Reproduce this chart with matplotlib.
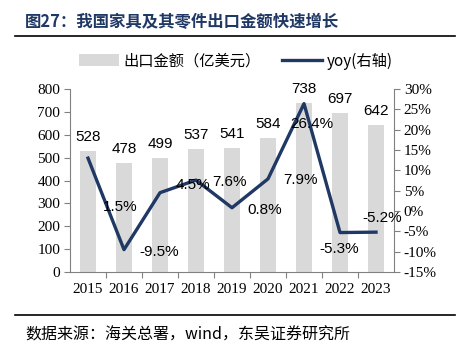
import matplotlib
matplotlib.use("Agg")
import matplotlib.pyplot as plt
import numpy as np

years = ["2015", "2016", "2017", "2018", "2019", "2020", "2021", "2022", "2023"]
export_value = [528, 478, 499, 537, 541, 584, 738, 697, 642]
yoy = [13.0, -9.5, 4.5, 7.6, 0.8, 7.9, 26.4, -5.3, -5.2]
yoy_labels = ["1.5%", "-9.5%", "4.5%", "7.6%", "0.8%", "7.9%", "26.4%", "-5.3%", "-5.2%"]
# label placement (x in category units, y in % on right axis)
yoy_label_pos = [(0.89, 1.1), (1.97, -10.0), (2.92, 6.4), (3.94, 7.2), (4.9, 0.3),
                 (5.91, 7.5), (6.22, 21.5), (6.99, -9.3), (8.17, -1.6)]

cjk = ["Noto Sans CJK SC", "DejaVu Sans"]
serif = ["Liberation Serif", "DejaVu Serif"]
sans = ["Liberation Sans", "DejaVu Sans"]

W, H = 458, 345
fig = plt.figure(figsize=(W / 100, H / 100), dpi=100)
ax = fig.add_axes([70 / W, (H - 272) / H, (394 - 70) / W, (272 - 89) / H])
ax2 = ax.twinx()

navy = "#1F3864"
gray_spine = "#808080"
x = np.arange(len(years))

bars = ax.bar(x, export_value, width=0.47, color="#D9D9D9", zorder=1, label="出口金额（亿美元）")
for xi, v in zip(x, export_value):
    ax.annotate(str(v), (xi, v), xytext=(0, 5), textcoords="offset points",
                ha="center", va="bottom", fontsize=11, family=sans, color="black")

ax.set_xlim(-0.5, len(years) - 0.5)
ax.set_ylim(0, 800)
ax.set_yticks(range(0, 801, 100))
ax.set_yticklabels([str(v) for v in range(0, 801, 100)], family=serif, fontsize=11)

ax.set_xticks(np.arange(0.5, len(years) - 0.5, 1))
ax.set_xticklabels([])
ax.set_xticks(x, minor=True)
ax.set_xticklabels(years, minor=True, family=serif, fontsize=11)
ax.tick_params(axis="x", which="major", length=4, color=gray_spine, direction="out")
ax.tick_params(axis="x", which="minor", length=0, pad=8)
ax.tick_params(axis="y", length=4, color=gray_spine, direction="out", pad=3)

ln, = ax2.plot(x, yoy, color=navy, lw=2.4, zorder=3, label="yoy(右轴)")
ax2.set_ylim(-15, 30)
ax2.set_yticks(range(-15, 31, 5))
ax2.set_yticklabels([f"{v}%" for v in range(-15, 31, 5)], family=serif, fontsize=11)
ax2.tick_params(axis="y", length=4, color=gray_spine, direction="out", pad=3)
for t, (px, py) in zip(yoy_labels, yoy_label_pos):
    ax2.text(px, py, t, ha="center", va="center", fontsize=11, family=sans, color="black", zorder=4)

for a in (ax, ax2):
    a.spines["top"].set_visible(False)
    for s in ("left", "right", "bottom"):
        a.spines[s].set_color(gray_spine)
        a.spines[s].set_linewidth(0.8)
ax.spines["right"].set_visible(False)
ax2.spines["left"].set_visible(False)
ax2.spines["bottom"].set_visible(False)

fig.legend([bars, ln], ["出口金额（亿美元）", "yoy(右轴)"], loc="center",
           bbox_to_anchor=(236 / W, 1 - 61 / H), ncol=2, frameon=False,
           prop={"family": cjk, "size": 11}, handlelength=2.6, handleheight=0.8,
           columnspacing=1.4, handletextpad=0.3)

fig.text(25 / W, 1 - 22 / H, "图27：我国家具及其零件出口金额快速增长", ha="left", va="center",
         fontsize=11.8, fontweight="bold", color=navy, family=cjk)
fig.add_artist(plt.Line2D([15 / W, 455 / W], [1 - 36 / H, 1 - 36 / H], color="black", lw=1.2))
fig.add_artist(plt.Line2D([15 / W, 455 / W], [1 - 315 / H, 1 - 315 / H], color="black", lw=1.2))
fig.text(25 / W, 1 - 344 / H, "数据来源：海关总署，wind，东吴证券研究所", ha="left", va="bottom",
         fontsize=11.5, color="black", family=cjk)

fig.savefig("out.png", dpi=100)
